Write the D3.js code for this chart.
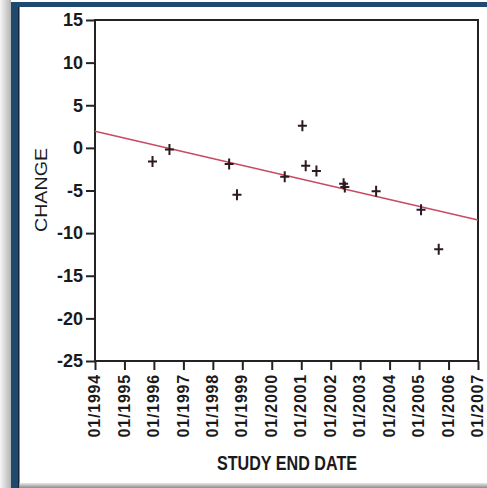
<!DOCTYPE html>
<meta charset="utf-8">
<style>
  body { margin: 0; background: #fff; }
  svg { display: block; }
  text { font-family: "Liberation Sans", Arial, sans-serif; fill: #1a1a1a; }
</style>
<svg width="487" height="488"></svg>
<script src="https://d3js.org/d3.v7.min.js"></script>
<script>

// study end dates and change values
var studyDates = ["1995-12-15", "1996-07-12", "1998-07-22", "1998-10-27", "2000-06-10",
                  "2001-01-15", "2001-02-25", "2001-07-08", "2002-06-10", "2002-06-25",
                  "2003-07-18", "2005-01-25", "2005-09-01"];
var changes = [-1.6, -0.2, -1.9, -5.5, -3.4, 2.6, -2.1, -2.7, -4.2, -4.6, -5.1, -7.25, -11.9];

// fitted trend line, ends at the edges of the plot
var trendDates = ["1994-01-01", "2007-01-01"];
var trendValues = [1.95, -8.45];

var yTicks = [15, 10, 5, 0, -5, -10, -15, -20, -25];
var xDomain = ["1994-01-01", "2007-01-01"];

var parseDate = d3.timeParse("%Y-%m-%d");

var svg = d3.select("svg"),
    margin = {top: 20, right: 9, bottom: 127, left: 95},
    width = +svg.attr("width") - margin.left - margin.right,
    height = +svg.attr("height") - margin.top - margin.bottom;

// picture frame: shadow strip, blue border
var defs = svg.append("defs");
var shade = defs.append("linearGradient").attr("id", "shade");
shade.append("stop").attr("offset", "0%").attr("stop-color", "#f6f6f6");
shade.append("stop").attr("offset", "100%").attr("stop-color", "#b4b4b4");
var shadeB = defs.append("linearGradient").attr("id", "shadeB")
    .attr("x1", 0).attr("y1", 0).attr("x2", 0).attr("y2", 1);
shadeB.append("stop").attr("offset", "0%").attr("stop-color", "#e8e8e8");
shadeB.append("stop").attr("offset", "100%").attr("stop-color", "#8c8c8c");

svg.append("rect").attr("x", 0).attr("y", 0).attr("width", 11).attr("height", 488).attr("fill", "url(#shade)");
svg.append("rect").attr("x", 11).attr("y", 2).attr("width", 476).attr("height", 5).attr("fill", "#1f4a6e");
svg.append("rect").attr("x", 11).attr("y", 2).attr("width", 7).attr("height", 486).attr("fill", "#1f4a6e");
svg.append("rect").attr("x", 18).attr("y", 7).attr("width", 1.5).attr("height", 481).attr("fill", "#15233a");
svg.append("rect").attr("x", 19.5).attr("y", 483).attr("width", 468).attr("height", 5).attr("fill", "url(#shadeB)");

var g = svg.append("g").attr("transform", "translate(" + margin.left + "," + margin.top + ")");

var x = d3.scaleTime()
    .domain(xDomain.map(parseDate))
    .range([0, width]);

var y = d3.scaleLinear()
    .domain([-25, 15])
    .range([height, 0]);

// box round the plot
g.append("rect")
    .attr("width", width)
    .attr("height", height)
    .attr("fill", "none")
    .attr("stroke", "#222")
    .attr("stroke-width", 2);

var yAxis = g.append("g")
    .call(d3.axisLeft(y).tickValues(yTicks).tickSize(9).tickPadding(3).tickFormat(function(d) { return String(d); }));
yAxis.select(".domain").remove();
yAxis.selectAll("line").attr("stroke", "#222").attr("stroke-width", 2);
yAxis.selectAll("text")
    .attr("font-size", 18)
    .attr("font-weight", "bold")
    .attr("fill", "#1a1a1a");

var xAxis = g.append("g")
    .attr("transform", "translate(0," + height + ")")
    .call(d3.axisBottom(x).ticks(d3.timeYear.every(1)).tickSize(9).tickFormat(d3.timeFormat("%m/%Y")));
xAxis.select(".domain").remove();
xAxis.selectAll("line").attr("stroke", "#222").attr("stroke-width", 2);
xAxis.selectAll("text")
    .attr("font-size", 16)
    .attr("font-weight", "bold")
    .attr("letter-spacing", 0.8)
    .attr("fill", "#1a1a1a")
    .attr("transform", "rotate(-90)")
    .attr("text-anchor", "end")
    .attr("x", -13)
    .attr("y", -1)
    .attr("dy", "0.35em");

// trend line
var line = d3.line()
    .x(function(d) { return x(d.date); })
    .y(function(d) { return y(d.value); });

g.append("path")
    .datum(trendDates.map(function(d, i) { return {date: parseDate(d), value: trendValues[i]}; }))
    .attr("fill", "none")
    .attr("stroke", "#c94b63")
    .attr("stroke-width", 1.6)
    .attr("d", line);

// study points as plus marks
var points = studyDates.map(function(d, i) { return {date: parseDate(d), value: changes[i]}; });

g.selectAll(".pt")
    .data(points)
  .enter().append("path")
    .attr("class", "pt")
    .attr("transform", function(d) { return "translate(" + x(d.date) + "," + y(d.value) + ")"; })
    .attr("d", "M-4.5,0H4.5M0,-5.5V5.5")
    .attr("stroke", "#2a1a22")
    .attr("stroke-width", 2)
    .attr("fill", "none");

// axis titles
svg.append("text")
    .attr("x", 287)
    .attr("y", 470)
    .attr("text-anchor", "middle")
    .attr("font-size", 19.5)
    .attr("font-weight", "bold")
    .attr("textLength", 140)
    .attr("lengthAdjust", "spacingAndGlyphs")
    .text("STUDY END DATE");

svg.append("text")
    .attr("transform", "translate(47,190) rotate(-90)")
    .attr("text-anchor", "middle")
    .attr("font-size", 17)
    .attr("textLength", 84)
    .attr("lengthAdjust", "spacingAndGlyphs")
    .text("CHANGE");

</script>
